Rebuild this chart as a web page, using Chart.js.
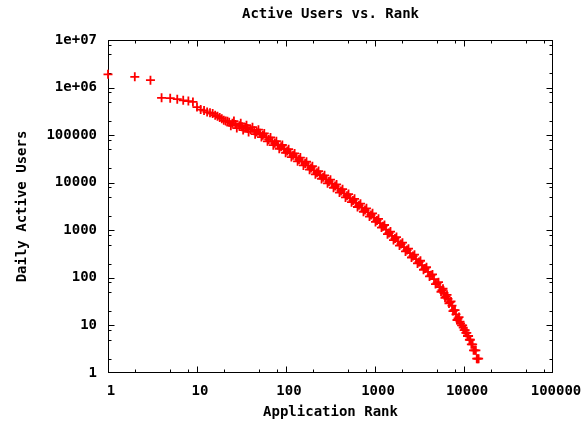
<!DOCTYPE html>
<html lang="en">
<head>
  <meta charset="UTF-8" />
  <title>Active Users vs. Rank</title>
  <script src="https://cdn.jsdelivr.net/npm/chart.js"></script>
  <style>
    html, body { margin: 0; padding: 0; background: #fff; }
    #wrap { width: 582px; height: 423px; }
  </style>
</head>
<body>
  <div id="wrap"><canvas id="rankChart" width="582" height="423"></canvas></div>

  <script>
    const titleText = 'Active Users vs. Rank';
    const xTitle = 'Application Rank';
    const yTitle = 'Daily Active Users';

    // values (rank -> daily active users)
    const ranks = [
      1, 2, 3, 4, 5, 6, 7, 8, 9, 10, 11, 12, 13, 14, 15, 16, 17, 18, 19, 20, 21, 22,
      23, 24, 25, 26, 27, 28, 30, 31, 32, 33, 35, 36, 37, 38, 40, 42, 44, 45, 47, 49,
      51, 53, 55, 57, 60, 62, 64, 67, 70, 72, 75, 78, 81, 84, 88, 91, 95, 99,
      103, 107, 111, 115, 120, 125, 130, 135, 140, 145, 151, 157, 164, 170, 177, 184,
      191, 198, 206, 214, 223, 232, 241, 251, 261, 271, 282, 293, 304, 316, 329, 342,
      356, 370, 384, 399, 415, 432, 449, 466, 485, 504, 524, 545, 566, 589, 612, 636,
      661, 687, 714, 742, 772, 802, 834, 867, 902, 938, 975, 1013,
      1053, 1095, 1138, 1183, 1230, 1279, 1330, 1382, 1436, 1493, 1552, 1614, 1678, 1744,
      1812, 1884, 1959, 2036, 2117, 2201, 2289, 2379, 2473, 2571, 2673, 2779,
      2889, 3003, 3121, 3244, 3373, 3507, 3646, 3791, 3941, 4097, 4258, 4427,
      4602, 4784, 4974, 5171, 5375, 5517, 5662, 5809, 5960, 6118, 6280, 6443, 6610, 6785,
      6965, 7145, 7330, 7525, 7725, 7925, 8130, 8347, 8570, 8792, 9020,
      9150, 9400, 9650, 9800, 10050, 10300, 10500, 10750, 10950, 11250, 11500, 11800,
      12100, 12500, 12800, 13200, 13600, 13900, 14250, 14600
    ];
    const users = [
      1900000, 1680000, 1430000, 610000, 600000, 570000, 540000, 520000, 500000, 390000,
      345000, 330000, 305000, 295000, 285000, 262000, 250000, 235000, 222000, 205000, 198000, 195000,
      187000, 158000, 177000, 198000, 167000, 141000, 157000, 177000, 150000, 128000, 144000, 162000,
      138000, 117000, 131000, 147000, 124000, 105000, 117000, 130500,
      110000, 91000, 99500, 108600, 89900, 74300, 81300, 89200, 74100, 61600, 67900, 74800,
      62200, 51700, 56800, 62100, 51300, 42400,
      46300, 50700, 41900, 34600, 37800, 41300, 34200, 28200, 30900, 33800, 27900, 23100,
      25200, 27600, 22800, 18800,
      20500, 22200, 18200, 15000, 16200, 17600, 14500, 12000, 13100, 14300, 11800, 9720,
      10600, 11600, 9530, 7830,
      8490, 9210, 7560, 6200, 6730, 7310, 5990, 4910, 5330, 5780, 4750, 3900, 4230, 4590,
      3760, 3090,
      3350, 3630, 2990, 2450, 2660, 2890, 2370, 1940, 2100, 2270, 1840, 1500,
      1610, 1740, 1420, 1140, 1210, 1290, 1030, 827, 877, 940, 762, 622, 670, 721,
      587, 478, 513, 548, 444, 359, 384, 411, 332, 268, 287, 307,
      248, 201, 215, 229, 184, 148, 157, 167, 134, 107, 113, 118,
      94, 74, 77, 81, 64, 51, 55, 59, 48, 38, 41, 44, 36, 29,
      31, 32, 26, 20, 21, 21, 17, 13, 14, 15, 12,
      11, 10, 10, 9, 8, 8, 7, 7, 6, 6, 5, 5,
      4, 4, 3, 3, 3, 2, 2, 2
    ];

    const xTicks = [1, 10, 100, 1000, 10000, 100000];
    const xTickLabels = ['1', '10', '100', '1000', '10000', '100000'];
    const yTicks = [1, 10, 100, 1000, 10000, 100000, 1000000, 10000000];
    const yTickLabels = ['1', '10', '100', '1000', '10000', '100000', '1e+06', '1e+07'];
    const minorSteps = [2, 5, 8];

    const FONT = { family: "'DejaVu Sans Mono', monospace", size: 14, weight: 'bold' };

    // box around the plot + inward ticks on all four sides
    const framePlugin = {
      id: 'frame',
      beforeDatasetsDraw(chart) {
        const { ctx, chartArea: a, scales } = chart;
        const L = Math.round(a.left) + 0.5, R = Math.round(a.right) - 0.5;
        const T = Math.round(a.top) + 0.5, B = Math.round(a.bottom) - 0.5;
        const clamp = (p, lo, hi) => Math.min(hi, Math.max(lo, p));
        ctx.save();
        ctx.strokeStyle = '#000';
        ctx.lineWidth = 1;
        ctx.strokeRect(L, T, R - L, B - T);
        ctx.beginPath();
        const xTick = (v, len) => {
          const p = clamp(Math.round(scales.x.getPixelForValue(v)) + 0.5, L, R);
          ctx.moveTo(p, B); ctx.lineTo(p, B - len);
          ctx.moveTo(p, T); ctx.lineTo(p, T + len);
        };
        const yTick = (v, len) => {
          const p = clamp(Math.round(scales.y.getPixelForValue(v)) + 0.5, T, B);
          ctx.moveTo(L, p); ctx.lineTo(L + len, p);
          ctx.moveTo(R, p); ctx.lineTo(R - len, p);
        };
        xTicks.forEach((v, i) => {
          xTick(v, 6);
          if (i < xTicks.length - 1) minorSteps.forEach(m => xTick(v * m, 3));
        });
        yTicks.forEach((v, i) => {
          yTick(v, 6);
          if (i < yTicks.length - 1) minorSteps.forEach(m => yTick(v * m, 3));
        });
        ctx.stroke();
        ctx.restore();
      },
      afterDraw(chart) {
        const { ctx, chartArea: a } = chart;
        ctx.save();
        ctx.fillStyle = '#000';
        ctx.font = `bold ${FONT.size}px ${FONT.family}`;
        ctx.textAlign = 'center';
        ctx.textBaseline = 'middle';
        ctx.fillText(titleText, (a.left + a.right) / 2, 14);
        ctx.restore();
      }
    };

    const ctx = document.getElementById('rankChart').getContext('2d');
    new Chart(ctx, {
      type: 'scatter',
      data: {
        datasets: [{
          data: ranks.map((r, i) => ({ x: r, y: users[i] })),
          pointStyle: 'cross',
          pointRadius: 4.5,
          pointHoverRadius: 4.5,
          borderColor: '#ff0000',
          backgroundColor: '#ff0000',
          borderWidth: 1.8,
          clip: false
        }]
      },
      options: {
        responsive: false,
        animation: false,
        devicePixelRatio: 1,
        layout: { padding: { top: 40, right: 29, left: 0, bottom: 0 } },
        plugins: { legend: { display: false }, tooltip: { enabled: false }, title: { display: false } },
        scales: {
          x: {
            type: 'logarithmic', min: 1, max: 100000,
            afterBuildTicks: s => { s.ticks = xTicks.map(v => ({ value: v })); },
            afterFit: s => { s.height = 50; s.paddingLeft = 0; s.paddingRight = 0; },
            grid: { display: false, drawTicks: false },
            border: { display: false },
            ticks: { autoSkip: false, maxRotation: 0, padding: 10, labelOffset: 3, color: '#000', font: FONT,
                     callback: (v, i) => xTickLabels[i] },
            title: { display: true, text: xTitle, color: '#000', font: FONT, padding: { top: 0, bottom: 2 } }
          },
          y: {
            type: 'logarithmic', min: 1, max: 10000000,
            afterBuildTicks: s => { s.ticks = yTicks.map(v => ({ value: v })); },
            afterFit: s => { s.width = 108; s.paddingTop = 0; s.paddingBottom = 0; },
            grid: { display: false, drawTicks: false },
            border: { display: false },
            ticks: { autoSkip: false, padding: 11, color: '#000', font: FONT,
                     callback: (v, i) => yTickLabels[i] },
            title: { display: true, text: yTitle, color: '#000', font: FONT, padding: { top: 14, bottom: 0 } }
          }
        }
      },
      plugins: [framePlugin]
    });
  </script>
</body>
</html>
